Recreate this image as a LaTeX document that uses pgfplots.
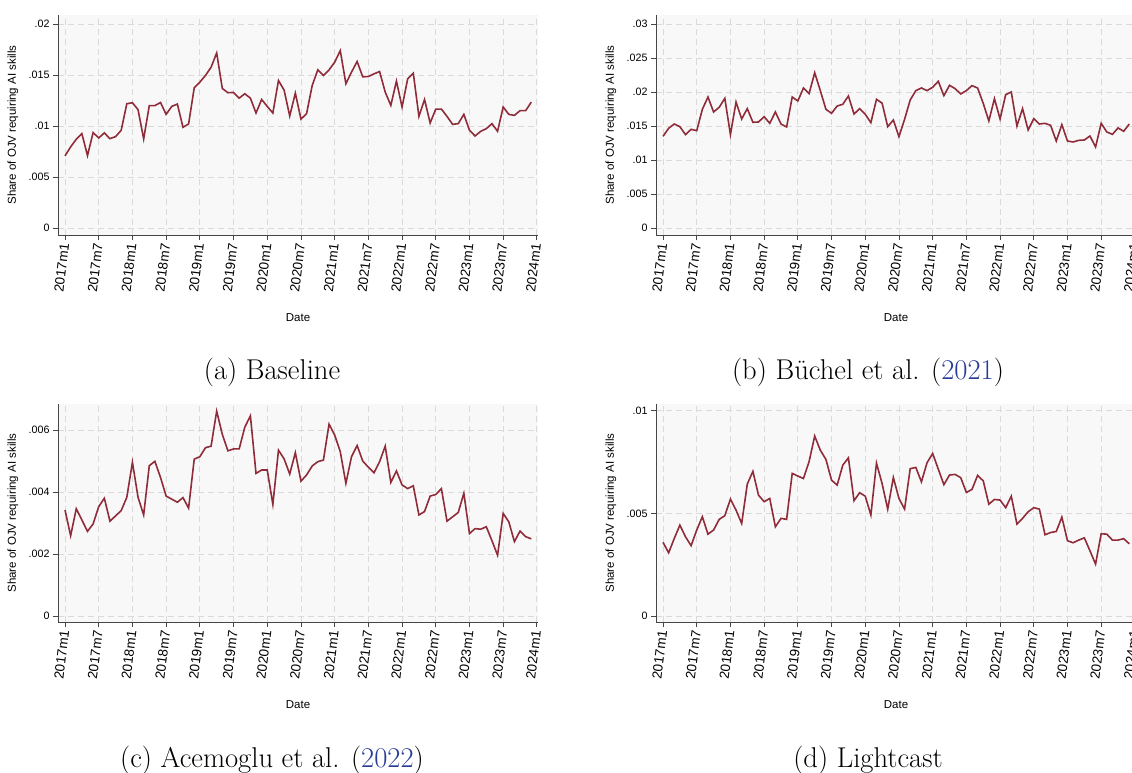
\documentclass[border=0pt]{standalone}
\usepackage{fontspec}
\usepackage{pgfplots}
\pgfplotsset{compat=1.18}
\usepackage{pgfplotstable}
\newfontfamily\arial{Liberation Sans}
\definecolor{linecol}{RGB}{144,44,57}
\definecolor{bgcol}{RGB}{248,248,248}
\definecolor{gridcol}{RGB}{218,218,218}
\definecolor{axcol}{RGB}{70,70,70}
\definecolor{citecol}{RGB}{40,60,150}

\pgfplotstableread{
m v
0 0.00707
1 0.00795
2 0.0087
3 0.00925
4 0.0071
5 0.00935
6 0.00883
7 0.00932
8 0.00876
9 0.00896
10 0.00958
11 0.01218
12 0.01228
13 0.0116
14 0.00873
15 0.0120
16 0.0120
17 0.0123
18 0.01114
19 0.01192
20 0.01215
21 0.00987
22 0.0102
23 0.01374
24 0.0143
25 0.01495
26 0.01576
27 0.01716
28 0.01368
29 0.01326
30 0.01329
31 0.01273
32 0.01316
33 0.01273
34 0.01127
35 0.0126
36 0.01192
37 0.01127
38 0.01446
39 0.01352
40 0.01098
41 0.01322
42 0.01068
43 0.0112
44 0.01397
45 0.0155
46 0.01495
47 0.0155
48 0.01625
49 0.01739
50 0.01414
51 0.01528
52 0.01632
53 0.01482
54 0.01485
55 0.01511
56 0.01534
57 0.01332
58 0.01202
59 0.0144
60 0.01186
61 0.01462
62 0.01518
63 0.01094
64 0.0126
65 0.01029
66 0.01166
67 0.01166
68 0.01094
69 0.01016
70 0.01023
71 0.01114
72 0.00958
73 0.00902
74 0.00948
75 0.00974
76 0.01023
77 0.00948
78 0.01186
79 0.01114
80 0.01104
81 0.0115
82 0.0115
83 0.01234
}\dataA

\pgfplotstableread{
m v
0 0.01348
1 0.01466
2 0.01529
3 0.0149
4 0.01373
5 0.01451
6 0.01431
7 0.01745
8 0.01926
9 0.01706
10 0.01775
11 0.01907
12 0.01373
13 0.01853
14 0.01603
15 0.01755
16 0.01554
17 0.01559
18 0.01637
19 0.01539
20 0.01706
21 0.01529
22 0.01485
23 0.01926
24 0.01868
25 0.02059
26 0.01975
27 0.02284
28 0.0202
29 0.01745
30 0.01686
31 0.01794
32 0.01819
33 0.01941
34 0.01676
35 0.01755
36 0.01672
37 0.01549
38 0.01892
39 0.01836
40 0.0149
41 0.01588
42 0.01343
43 0.01598
44 0.01882
45 0.0202
46 0.02059
47 0.0202
48 0.02069
49 0.02157
50 0.01946
51 0.02098
52 0.02049
53 0.01971
54 0.0202
55 0.02093
56 0.02059
57 0.01833
58 0.01574
59 0.01902
60 0.01603
61 0.01961
62 0.02
63 0.015
64 0.01755
65 0.01441
66 0.01608
67 0.01529
68 0.01539
69 0.0151
70 0.01279
71 0.0152
72 0.01279
73 0.01265
74 0.01289
75 0.01294
76 0.01353
77 0.01191
78 0.01539
79 0.01412
80 0.01377
81 0.01471
82 0.01422
83 0.01529
}\dataB

\pgfplotstableread{
m v
0 0.00342
1 0.00259
2 0.00346
3 0.0031
4 0.00273
5 0.00297
6 0.00353
7 0.0038
8 0.00306
9 0.00323
10 0.0034
11 0.00383
12 0.00496
13 0.00383
14 0.00326
15 0.00485
16 0.00499
17 0.00447
18 0.00387
19 0.00377
20 0.00367
21 0.00382
22 0.00348
23 0.00506
24 0.00514
25 0.00543
26 0.00548
27 0.00661
28 0.00586
29 0.00533
30 0.00539
31 0.00539
32 0.00609
33 0.00646
34 0.0046
35 0.00471
36 0.00471
37 0.0036
38 0.00535
39 0.00507
40 0.00458
41 0.00527
42 0.00435
43 0.00455
44 0.00484
45 0.00498
46 0.00503
47 0.00619
48 0.00584
49 0.0053
50 0.00428
51 0.00514
52 0.0055
53 0.005
54 0.0048
55 0.00462
56 0.00498
57 0.00548
58 0.00431
59 0.00468
60 0.00423
61 0.00411
62 0.0042
63 0.00326
64 0.00337
65 0.00387
66 0.00392
67 0.00411
68 0.00306
69 0.0032
70 0.00334
71 0.00396
72 0.00266
73 0.00282
74 0.0028
75 0.00288
76 0.00243
77 0.00196
78 0.00331
79 0.00304
80 0.0024
81 0.00274
82 0.00256
83 0.00249
}\dataC

\pgfplotstableread{
m v
0 0.00359
1 0.00308
2 0.00378
3 0.00443
4 0.00386
5 0.00343
6 0.00419
7 0.00484
8 0.00399
9 0.00419
10 0.00471
11 0.00489
12 0.0057
13 0.00516
14 0.00451
15 0.00643
16 0.00705
17 0.00589
18 0.00557
19 0.00573
20 0.00435
21 0.00476
22 0.00471
23 0.00695
24 0.00682
25 0.0067
26 0.00752
27 0.00877
28 0.00808
29 0.00763
30 0.00662
31 0.00638
32 0.00735
33 0.00771
34 0.00562
35 0.00601
36 0.00584
37 0.00492
38 0.00745
39 0.00645
40 0.00521
41 0.00675
42 0.00573
43 0.00521
44 0.00718
45 0.00724
46 0.00654
47 0.00747
48 0.00792
49 0.00716
50 0.0064
51 0.00687
52 0.0069
53 0.00674
54 0.00602
55 0.00617
56 0.00685
57 0.00659
58 0.00545
59 0.00568
60 0.00565
61 0.00528
62 0.00584
63 0.00448
64 0.00476
65 0.00508
66 0.00528
67 0.00521
68 0.00396
69 0.00407
70 0.00412
71 0.00482
72 0.00367
73 0.00357
74 0.0037
75 0.00381
76 0.00318
77 0.00253
78 0.00401
79 0.00399
80 0.0037
81 0.0037
82 0.00377
83 0.00352
}\dataD

\pgfplotsset{
 stata/.style={
  scale only axis, width=480bp,
  xmin=-1.25, xmax=84.2,
  axis x line*=bottom, axis y line*=left,
  axis line style={-, draw=axcol, line width=1bp},
  tick align=outside, major tick length=5bp,
  tick style={draw=axcol, line width=0.8bp},
  xtick={0,6,...,84},
  xticklabels={2017m1,2017m7,2018m1,2018m7,2019m1,2019m7,2020m1,2020m7,2021m1,2021m7,2022m1,2022m7,2023m1,2023m7,2024m1},
  xticklabel style={font=\arial\fontsize{13.5bp}{14bp}\selectfont, rotate=83, anchor=east},
  yticklabel style={font=\arial\fontsize{10.7bp}{12bp}\selectfont},
  scaled y ticks=false,
  grid=major,
  major grid style={draw=gridcol, dash pattern=on 6bp off 4bp, line width=0.8bp},
  axis background/.style={fill=bgcol},
  xlabel={Date}, ylabel={Share of OJV requiring AI skills},
  label style={font=\arial\fontsize{11.5bp}{13bp}\selectfont},
  xlabel style={at={(axis description cs:0.5,0)}, anchor=center, yshift=-83bp},
  ylabel style={at={(axis description cs:-0.094,0.5)}, anchor=center},
 }
}

\begin{document}
\begin{tikzpicture}
\useasboundingbox (0,0) rectangle (1132bp,-773bp);
\clip (0,0) rectangle (1132bp,-773bp);

\begin{axis}[stata, at={(58bp,-235bp)}, anchor=south west, height=220bp,
  ymin=-0.000686, ymax=0.02088,
  ytick={0,0.005,0.01,0.015,0.02}, yticklabels={0,.005,.01,.015,.02}]
\addplot[linecol, line width=1.6bp, mark=none] table[x=m,y=v]{\dataA};
\end{axis}

\begin{axis}[stata, at={(656bp,-235bp)}, anchor=south west, height=220bp,
  ymin=-0.00103, ymax=0.03132,
  ytick={0,0.005,0.01,0.015,0.02,0.025,0.03}, yticklabels={0,.005,.01,.015,.02,.025,.03}]
\addplot[linecol, line width=1.6bp, mark=none] table[x=m,y=v]{\dataB};
\end{axis}

\begin{axis}[stata, at={(58bp,-622bp)}, anchor=south west, height=218bp,
  ymin=-0.000194, ymax=0.00684,
  ytick={0,0.002,0.004,0.006}, yticklabels={0,.002,.004,.006}]
\addplot[linecol, line width=1.6bp, mark=none] table[x=m,y=v]{\dataC};
\end{axis}

\begin{axis}[stata, at={(656bp,-622bp)}, anchor=south west, height=218bp,
  ymin=-0.00029, ymax=0.01033,
  ytick={0,0.005,0.01}, yticklabels={0,.005,.01}]
\addplot[linecol, line width=1.6bp, mark=none] table[x=m,y=v]{\dataD};
\end{axis}

\node[anchor=base, font=\fontsize{28.6bp}{34bp}\selectfont] at (272bp,-379bp) {(a) Baseline};
\node[anchor=base, font=\fontsize{28.6bp}{34bp}\selectfont] at (868bp,-379bp) {(b) Büchel et al. (\textcolor{citecol}{2021})};
\node[anchor=base, font=\fontsize{28.6bp}{34bp}\selectfont] at (272bp,-767bp) {(c) Acemoglu et al. (\textcolor{citecol}{2022})};
\node[anchor=base, font=\fontsize{28.6bp}{34bp}\selectfont] at (868bp,-767bp) {(d) Lightcast};
\end{tikzpicture}
\end{document}
